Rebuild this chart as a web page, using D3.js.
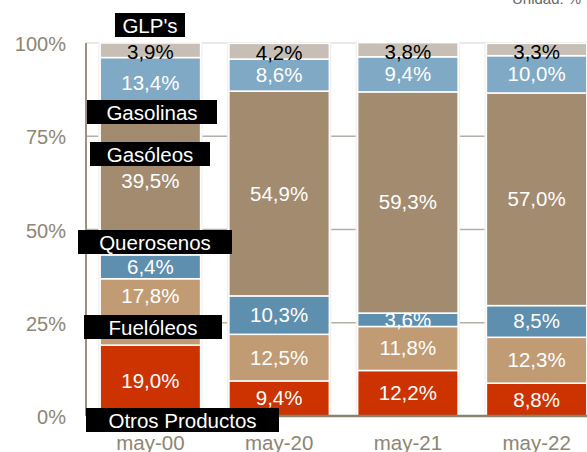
<!DOCTYPE html>
<html>
<head>
<meta charset="utf-8">
<script src="https://cdn.jsdelivr.net/npm/d3@7/dist/d3.min.js"></script>
<style>
  body { margin:0; background:#fff; }
  svg { display:block; font-family:"Liberation Sans", Arial, sans-serif; }
</style>
</head>
<body>
<svg id="chart"></svg>
<script>
var W = 587, H = 452;

var months = ["may-00", "may-20", "may-21", "may-22"];
var series = ["Otros Productos", "Fuelóleos", "Querosenos", "Gasóleos", "Gasolinas", "GLP's"];
var otros      = [19.0, 9.4, 12.2, 8.8];
var fueloleos  = [17.8, 12.5, 11.8, 12.3];
var querosenos = [6.4, 10.3, 3.6, 8.5];
var gasoleos   = [39.5, 54.9, 59.3, 57.0];
var gasolinas  = [13.4, 8.6, 9.4, 10.0];
var glp        = [3.9, 4.2, 3.8, 3.3];
var yTicks = [0, 25, 50, 75, 100];

var colors = ["#cc3300", "#c19b74", "#5e8fae", "#a38b70", "#80a9c5", "#c7bfb5"];
var labelColor = ["#fff", "#fff", "#fff", "#fff", "#fff", "#000"];
// legend boxes on the left, [x, y, w] (layout only)
var boxes = [[86, 408, 193], [84, 315, 138], [78, 230, 154], [90, 142, 120], [87, 100, 130], [115, 13, 70]];

window.onload = function(){
  var svg = d3.select('#chart').attr('width', W).attr('height', H);

  var cols = [otros, fueloleos, querosenos, gasoleos, gasolinas, glp];
  var rows = months.map(function(m, i){
    var r = {month: m};
    series.forEach(function(s, k){ r[s] = cols[k][i]; });
    return r;
  });
  var stacked = d3.stack().keys(series)(rows);

  var x = d3.scaleBand().domain(months).range([86, 601]).paddingInner(0.22).paddingOuter(0.11);
  var y = d3.scaleLinear().domain([0, 100]).range([416, 43]);

  // top frame line
  svg.append('line').attr('x1', 86).attr('x2', W).attr('y1', 43).attr('y2', 43)
    .attr('stroke', '#e6e2dc').attr('stroke-width', 1.5);

  // gridlines
  svg.append('g').selectAll('line').data([25, 50, 75]).enter().append('line')
    .attr('x1', 86).attr('x2', W)
    .attr('y1', function(d){ return y(d); }).attr('y2', function(d){ return y(d); })
    .attr('stroke', '#b4b0aa').attr('stroke-width', 1.5);

  // bar shadows
  svg.append('g').selectAll('rect').data(months).enter().append('rect')
    .attr('x', function(d){ return x(d) - 2; })
    .attr('y', y(100))
    .attr('width', x.bandwidth() + 4)
    .attr('height', y(0) - y(100))
    .attr('fill', '#f2f1f0');

  // segments
  var g = svg.append('g').selectAll('g').data(stacked).enter().append('g')
    .attr('fill', function(d, i){ return colors[i]; });
  g.selectAll('rect').data(function(d){ return d; }).enter().append('rect')
    .attr('x', function(d){ return x(d.data.month); })
    .attr('y', function(d){ return y(d[1]); })
    .attr('width', x.bandwidth())
    .attr('height', function(d){ return y(d[0]) - y(d[1]); })
    .attr('stroke', '#fff').attr('stroke-width', 1.5);

  // value labels
  var fmt = function(v){ return d3.format('.1f')(v).replace('.', ',') + '%'; };
  stacked.forEach(function(s, i){
    svg.append('g').selectAll('text').data(s).enter().append('text')
      .attr('x', function(d){ return x(d.data.month) + x.bandwidth() / 2; })
      .attr('y', function(d, j){
        var c = (y(d[0]) + y(d[1])) / 2 + (i == 5 ? 9 : 7);
        if(i == 1 && j == 0) c -= 16; // lifted clear of the Fuelóleos box
        return c;
      })
      .attr('text-anchor', 'middle')
      .attr('font-size', 20.5)
      .attr('fill', labelColor[i])
      .text(function(d){ return fmt(d[1] - d[0]); });
  });

  // axes
  svg.append('line').attr('x1', 86).attr('x2', 86).attr('y1', 43).attr('y2', 416)
    .attr('stroke', '#9b917f').attr('stroke-width', 2);
  svg.append('line').attr('x1', 86).attr('x2', W).attr('y1', 416).attr('y2', 416)
    .attr('stroke', '#8a806c').attr('stroke-width', 2.5);
  svg.append('g').selectAll('text').data(yTicks).enter().append('text')
    .attr('x', 66).attr('y', function(d){ return y(d) + 8; })
    .attr('text-anchor', 'end').attr('font-size', 20).attr('fill', '#8f8573')
    .text(function(d){ return d + '%'; });

  svg.append('g').selectAll('text').data(months).enter().append('text')
    .attr('x', function(d){ return x(d) + x.bandwidth() / 2; })
    .attr('y', 450)
    .attr('text-anchor', 'middle').attr('font-size', 20.5).attr('fill', '#8f8573')
    .text(function(d){ return d; });

  // legend boxes
  var lg = svg.append('g').selectAll('g').data(series).enter().append('g');
  lg.append('rect')
    .attr('x', function(d, i){ return boxes[i][0]; })
    .attr('y', function(d, i){ return boxes[i][1]; })
    .attr('width', function(d, i){ return boxes[i][2]; })
    .attr('height', 24)
    .attr('fill', '#000');
  lg.append('text')
    .attr('x', function(d, i){ return boxes[i][0] + boxes[i][2] / 2; })
    .attr('y', function(d, i){ return boxes[i][1] + 19.5; })
    .attr('text-anchor', 'middle').attr('font-size', 20.5).attr('fill', '#fff')
    .text(function(d){ return d; });

  svg.append('text').attr('x', 512).attr('y', 4).attr('font-size', 15).attr('fill', '#666')
    .text('Unidad: %');
};
</script>
</body>
</html>
